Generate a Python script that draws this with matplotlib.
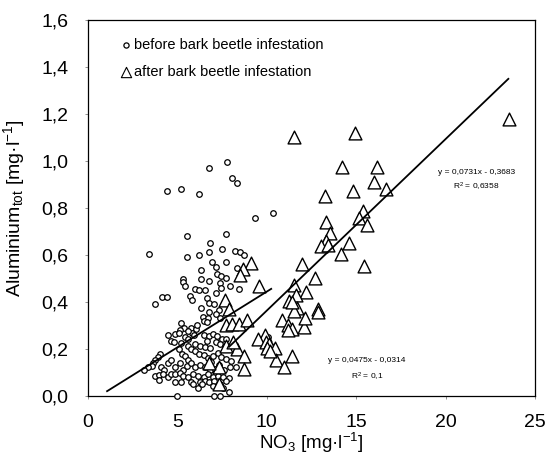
import numpy as np
import matplotlib
matplotlib.use('Agg')
import matplotlib.pyplot as plt

plt.rcParams['font.family'] = ['Liberation Sans', 'DejaVu Sans']
plt.rcParams['mathtext.fontset'] = 'custom'
plt.rcParams['mathtext.rm'] = 'Liberation Sans'
plt.rcParams['mathtext.it'] = 'Liberation Sans:italic'

# before bark beetle infestation (NO3, Al_tot)
before_no3 = [7.76, 6.76, 8.04, 8.35, 4.45, 5.22, 6.24, 10.33, 9.35, 5.53,
              7.75, 3.43, 6.82, 7.49, 6.20, 6.75, 8.22, 8.51, 8.73, 5.53,
              6.94, 7.71, 7.16, 6.31, 8.33, 7.24, 7.47, 7.75, 5.35, 5.35,
              6.33, 6.80, 5.41, 7.96, 8.43, 7.37, 7.47, 6.02, 6.20, 6.55,
              5.73, 7.16, 4.16, 4.41, 5.80, 6.65, 6.76, 3.73, 6.33, 7.08,
              7.31, 6.76, 7.14, 7.41, 6.43, 6.73, 6.47, 6.69, 5.20, 5.39,
              5.75, 6.04, 5.14, 4.88, 5.08, 5.84, 5.96, 6.51, 6.76, 6.69,
              4.47, 5.43, 5.59, 7.00, 7.20, 7.49, 7.71, 4.65, 4.80, 5.20,
              5.98, 6.27, 6.57, 6.82, 5.59, 5.75, 7.16, 7.39, 7.65, 7.84,
              4.02, 3.94, 3.78, 3.63, 5.10, 5.27, 5.43, 5.59, 5.98, 6.24,
              6.47, 6.73, 7.00, 7.25, 7.45, 7.71, 7.98, 3.59, 3.39, 3.14,
              4.08, 4.25, 4.51, 4.63, 4.90, 5.16, 5.33, 5.53, 5.78, 6.02,
              6.27, 6.57, 6.82, 7.10, 7.35, 7.61, 7.94, 8.29, 3.73, 3.98,
              4.22, 4.47, 4.65, 4.90, 5.14, 5.33, 5.59, 5.88, 6.18, 6.47,
              6.73, 7.00, 7.25, 7.55, 7.88, 3.96, 4.90, 5.20, 5.75, 5.90,
              6.27, 6.57, 6.76, 7.06, 7.41, 7.71, 6.18, 6.41, 7.00, 7.55,
              7.90, 5.00, 7.06, 7.40, 9.85, 10.05, 10.2, 5.6, 6.1, 6.9]
before_al = [0.995, 0.970, 0.929, 0.908, 0.871, 0.881, 0.860, 0.777, 0.756, 0.680,
             0.689, 0.603, 0.649, 0.626, 0.600, 0.612, 0.618, 0.612, 0.600, 0.592,
             0.571, 0.570, 0.548, 0.537, 0.546, 0.518, 0.510, 0.503, 0.499, 0.484,
             0.499, 0.491, 0.469, 0.467, 0.457, 0.481, 0.458, 0.457, 0.451, 0.451,
             0.427, 0.436, 0.420, 0.420, 0.409, 0.417, 0.397, 0.390, 0.376, 0.391,
             0.366, 0.357, 0.350, 0.332, 0.336, 0.332, 0.317, 0.313, 0.310, 0.287,
             0.287, 0.286, 0.280, 0.265, 0.269, 0.269, 0.260, 0.257, 0.254, 0.235,
             0.257, 0.250, 0.243, 0.263, 0.254, 0.243, 0.240, 0.234, 0.228, 0.226,
             0.220, 0.213, 0.207, 0.204, 0.213, 0.198, 0.228, 0.219, 0.213, 0.198,
             0.180, 0.165, 0.153, 0.138, 0.198, 0.180, 0.168, 0.153, 0.190, 0.180,
             0.173, 0.161, 0.168, 0.183, 0.165, 0.156, 0.149, 0.128, 0.124, 0.109,
             0.121, 0.112, 0.138, 0.153, 0.124, 0.138, 0.109, 0.126, 0.138, 0.124,
             0.131, 0.121, 0.109, 0.116, 0.131, 0.112, 0.121, 0.124, 0.086, 0.089,
             0.091, 0.082, 0.091, 0.094, 0.097, 0.086, 0.079, 0.094, 0.086, 0.082,
             0.091, 0.079, 0.086, 0.079, 0.074, 0.067, 0.061, 0.057, 0.057, 0.049,
             0.061, 0.064, 0.057, 0.064, 0.052, 0.064, 0.034, 0.049, 0.042, 0.034,
             0.016, 0.000, 0.000, 0.000, 0.23, 0.25, 0.215, 0.275, 0.30, 0.145]

# after bark beetle infestation
after_no3 = [23.53, 11.51, 14.96, 14.18, 16.14, 15.98, 16.65, 14.84, 13.24, 15.39,
             15.16, 15.63, 13.29, 13.55, 13.33, 13.04, 13.43, 14.61, 14.16, 15.43,
             11.96, 12.71, 11.53, 12.22, 11.61, 11.27, 11.67, 11.51, 12.88, 12.88,
             10.88, 11.20, 11.43, 12.10, 12.16, 9.88, 9.51, 9.94, 10.10, 10.49,
             10.53, 10.98, 11.41, 9.12, 8.65, 8.53, 9.55, 7.65, 7.90, 7.75,
             8.04, 8.45, 8.92, 8.33, 8.73, 8.73, 7.35, 7.35, 6.76, 7.75,
             8.10, 11.40, 11.20, 10.00, 10.20]
after_al = [1.180, 1.100, 1.118, 0.976, 0.976, 0.912, 0.882, 0.872, 0.850, 0.786,
            0.759, 0.726, 0.740, 0.692, 0.659, 0.637, 0.641, 0.650, 0.603, 0.551,
            0.560, 0.503, 0.473, 0.440, 0.428, 0.402, 0.376, 0.362, 0.371, 0.357,
            0.324, 0.301, 0.286, 0.295, 0.332, 0.257, 0.243, 0.228, 0.220, 0.202,
            0.153, 0.123, 0.171, 0.567, 0.540, 0.513, 0.466, 0.406, 0.369, 0.301,
            0.308, 0.305, 0.324, 0.198, 0.171, 0.116, 0.123, 0.052, 0.138, 0.213,
            0.228, 0.400, 0.280, 0.205, 0.190]

# regression lines as printed on the chart
fit_before = (0.0475, -0.0314)
fit_before_range = (1.08, 10.25)
fit_after = (0.0731, -0.3683)
fit_after_range = (7.9, 23.5)

xticks = [0, 5, 10, 15, 20, 25]
yticks = [0.0, 0.2, 0.4, 0.6, 0.8, 1.0, 1.2, 1.4, 1.6]
ytick_labels = ['0,0', '0,2', '0,4', '0,6', '0,8', '1,0', '1,2', '1,4', '1,6']

fig = plt.figure(figsize=(5.45, 4.55), dpi=100)
ax = fig.add_axes([0.161, 0.130, 0.821, 0.826])

ax.scatter(before_no3, before_al, s=16, marker='o', facecolors='white',
           edgecolors='black', linewidths=0.9, clip_on=False, zorder=3)
ax.scatter(after_no3, after_al, s=85, marker='^', facecolors='white',
           edgecolors='black', linewidths=1.0, clip_on=False, zorder=4)

for (m, b), (x0, x1) in [(fit_before, fit_before_range), (fit_after, fit_after_range)]:
    xs = np.array([x0, x1])
    ax.plot(xs, m * xs + b, color='black', lw=1.3, zorder=5)

ax.text(21.7, 0.952, 'y = 0,0731x - 0,3683', fontsize=6, ha='center', va='center')
ax.text(21.7, 0.890, 'R$^2$ = 0,6358', fontsize=6, ha='center', va='center')
ax.text(15.6, 0.149, 'y = 0,0475x - 0,0314', fontsize=6, ha='center', va='center')
ax.text(15.6, 0.082, 'R$^2$ = 0,1', fontsize=6, ha='center', va='center')

# legend drawn as text with symbols
ax.scatter([2.16], [1.493], s=14, marker='o', facecolors='white',
           edgecolors='black', linewidths=0.9)
ax.text(2.6, 1.493, 'before bark beetle infestation', fontsize=10.5, va='center')
ax.scatter([2.16], [1.380], s=55, marker='^', facecolors='white',
           edgecolors='black', linewidths=0.8)
ax.text(2.6, 1.380, 'after bark beetle infestation', fontsize=10.5, va='center')

ax.set_xlim(0, 25)
ax.set_ylim(0, 1.6)
ax.set_xticks(xticks)
ax.set_xticklabels([str(t) for t in xticks])
ax.set_yticks(yticks)
ax.set_yticklabels(ytick_labels)
ax.tick_params(axis='both', labelsize=14, length=2, width=0.6, color='0.5')
ax.tick_params(axis='y', pad=12)
ax.tick_params(axis='x', pad=11)
for sp in ax.spines.values():
    sp.set_linewidth(0.9)

ax.set_xlabel('NO$_3$ [mg·l$^{-1}$]', fontsize=13.5, labelpad=0)
ax.set_ylabel('Aluminium$_{\\rm tot}$ [mg·l$^{-1}$]', fontsize=14, labelpad=10)

fig.savefig('out.png', dpi=100)
